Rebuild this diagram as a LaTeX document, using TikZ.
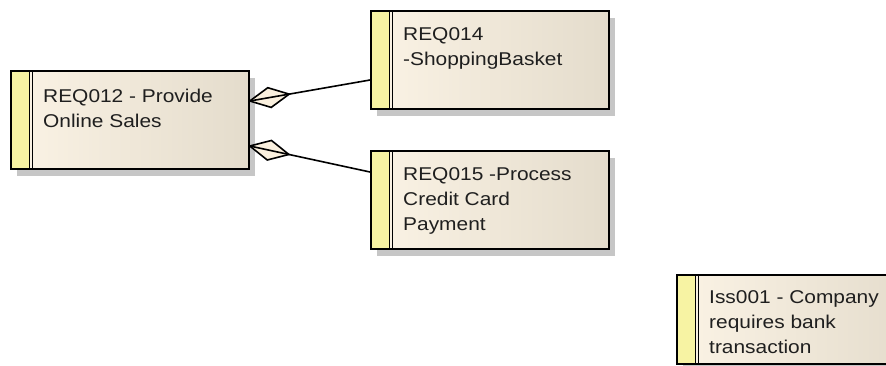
\documentclass[tikz,border=0pt]{standalone}
\usepackage{fontspec}
\newfontfamily\boxfont[FakeStretch=1.13]{Liberation Sans}
\usetikzlibrary{shadows,calc}
\definecolor{stripcol}{RGB}{247,243,163}
\definecolor{bodyleft}{RGB}{251,243,229}
\definecolor{bodyright}{RGB}{228,220,204}
\definecolor{shadowcol}{RGB}{198,198,198}
\definecolor{diafill}{RGB}{250,240,222}
\tikzset{
  reqbox/.style={rectangle, draw=black, line width=1.8pt, inner sep=0pt,
    minimum width=238pt, anchor=north west,
    left color=bodyleft, right color=bodyright,
    drop shadow={shadow xshift=6pt, shadow yshift=-7pt, fill=shadowcol, opacity=1},
    path picture={
      \fill[stripcol] (path picture bounding box.north west) rectangle ([xshift=18pt]path picture bounding box.south west);
      \draw[line width=1.5pt] ([xshift=18.4pt]path picture bounding box.north west) -- ([xshift=18.4pt]path picture bounding box.south west);
      \draw[line width=1.2pt] ([xshift=21.4pt]path picture bounding box.north west) -- ([xshift=21.4pt]path picture bounding box.south west);
    }},
  boxtext/.style={anchor=base west, align=left, inner sep=0pt,
    font=\boxfont\fontsize{18.5}{25}\selectfont, text=black!88},
  conn/.style={line width=1.6pt, black},
  dia/.style={line width=1.6pt, draw=black, fill=diafill, line join=miter}
}
\begin{document}
\begin{tikzpicture}[x=1pt,y=-1pt]
\clip (0,0) rectangle (886,365);
\fill[white] (0,0) rectangle (886,365);

\node[reqbox, minimum height=98pt] (r12) at (10,70) {};
\node[reqbox, minimum height=98pt] (r14) at (370,10) {};
\node[reqbox, minimum height=98pt] (r15) at (370,150) {};
\node[reqbox, minimum height=89pt] (i01) at (676,274) {};

% base anchor = baseline of the last line
\node[boxtext] (t12) at ([xshift=33pt,yshift=-57pt]r12.north west) {REQ012 - Provide\\Online Sales};
\node[boxtext] (t14) at ([xshift=33pt,yshift=-55pt]r14.north west) {REQ014\\-ShoppingBasket};
\node[boxtext] (t15) at ([xshift=33pt,yshift=-80pt]r15.north west) {REQ015 -Process\\Credit Card\\Payment};
\node[boxtext] (t01) at ([xshift=33pt,yshift=-79pt]i01.north west) {Iss001 - Company\\requires bank\\transaction};

% aggregation connectors
\coordinate (a1) at ([yshift=-31pt]r12.north east);
\coordinate (b1) at ([yshift=-70pt]r14.north west);
\coordinate (a2) at ([yshift=-76pt]r12.north east);
\coordinate (b2) at ([yshift=-22pt]r15.north west);

\coordinate (m1) at ($(a1)!20pt!(b1)$);
\coordinate (e1) at ($(a1)!40pt!(b1)$);
\coordinate (u1) at ($(m1)!10pt!90:(b1)$);
\coordinate (l1) at ($(m1)!10pt!-90:(b1)$);
\coordinate (m2) at ($(a2)!20pt!(b2)$);
\coordinate (e2) at ($(a2)!40pt!(b2)$);
\coordinate (u2) at ($(m2)!10pt!90:(b2)$);
\coordinate (l2) at ($(m2)!10pt!-90:(b2)$);

\draw[dia] (a1) -- (u1) -- (e1) -- (l1) -- cycle;
\draw[dia] (a2) -- (u2) -- (e2) -- (l2) -- cycle;
\draw[conn] (a1) -- (b1);
\draw[conn] (a2) -- (b2);
\end{tikzpicture}
\end{document}
